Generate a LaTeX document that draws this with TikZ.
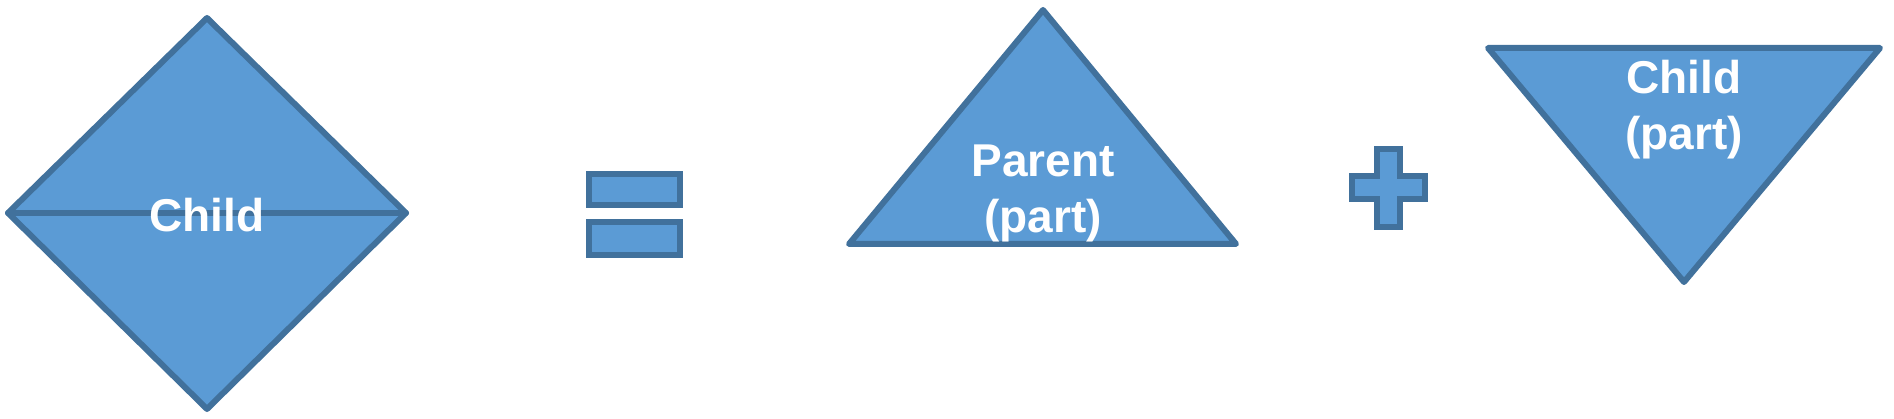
\documentclass[tikz,border=0pt]{standalone}
\usepackage{fontspec}
\setmainfont{Liberation Sans}
\definecolor{shapefill}{HTML}{5B9BD5}
\definecolor{shapeline}{HTML}{41719C}
\begin{document}
\begin{tikzpicture}[x=1pt,y=-1pt,
  blueshape/.style={fill=shapefill,draw=shapeline,line width=6pt,line join=round,line cap=round},
  lbl/.style={text=white,font=\fontsize{46}{56}\selectfont\bfseries,align=center,inner sep=0pt}]
\useasboundingbox (0,0) rectangle (1894,419);
% diamond
\coordinate (dt) at (207,18);
\coordinate (dr) at (406,213);
\coordinate (db) at (207,409);
\coordinate (dl) at (8,213);
\draw[blueshape] (dt) -- (dr) -- (db) -- (dl) -- cycle;
\draw[blueshape] (dl) -- (dr);
\node[lbl,anchor=base] (childlbl) at (207,232) {Child};
% equals
\draw[blueshape,line join=miter] (589,174) rectangle (680,205);
\draw[blueshape,line join=miter] (589,222) rectangle (680,255);
% parent triangle
\coordinate (pa) at (1043,10);
\coordinate (pl) at (849,244);
\coordinate (pr) at (1236,244);
\draw[blueshape] (pa) -- (pr) -- (pl) -- cycle;
\node[lbl,anchor=base] (parentlbl) at (1043,233) {Parent\\(part)};
% plus
\draw[blueshape,line join=miter] (1377,149) -- (1400,149) -- (1400,176) -- (1425,176) -- (1425,199) -- (1400,199) -- (1400,227) -- (1377,227) -- (1377,199) -- (1352,199) -- (1352,176) -- (1377,176) -- cycle;
% inverted child triangle
\coordinate (cl) at (1488,48);
\coordinate (cr) at (1880,48);
\coordinate (cb) at (1684,282);
\draw[blueshape] (cl) -- (cr) -- (cb) -- cycle;
\node[lbl,anchor=base] (childpartlbl) at (1684,150) {Child\\(part)};
\end{tikzpicture}
\end{document}
